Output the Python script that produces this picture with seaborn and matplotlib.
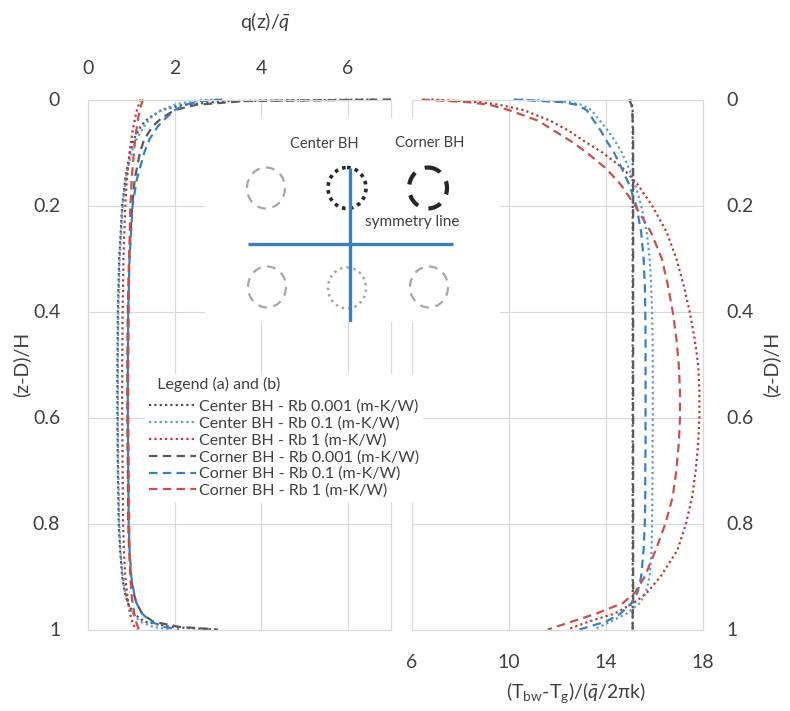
import numpy as np
import pandas as pd
import matplotlib
matplotlib.use("Agg")
import matplotlib.pyplot as plt
import seaborn as sns
from matplotlib.patches import Ellipse
from matplotlib.lines import Line2D

sns.set_theme(style="white")
plt.rcParams["font.family"] = ["Lato", "DejaVu Sans"]
plt.rcParams["mathtext.fontset"] = "custom"
plt.rcParams["mathtext.rm"] = "Lato"
plt.rcParams["mathtext.it"] = "Lato:italic"
plt.rcParams["mathtext.bf"] = "Lato:bold"

# ---- (a) heat extraction rate profiles, q(z)/q_mean vs (z-D)/H ----
z_q = [0.0, 0.003, 0.01, 0.02, 0.035, 0.05, 0.075, 0.1, 0.15, 0.2, 0.3, 0.4,
       0.5, 0.6, 0.7, 0.8, 0.85, 0.9, 0.93, 0.95, 0.97, 0.985, 0.995, 1.0]
q_center_rb0001 = [6.6, 3.2, 2.2, 1.7, 1.4, 1.22, 1.06, 0.97, 0.86, 0.79, 0.72, 0.69,
                   0.68, 0.68, 0.69, 0.71, 0.74, 0.79, 0.85, 0.92, 1.05, 1.3, 1.9, 2.9]
q_center_rb01 = [3.0, 2.4, 2.0, 1.68, 1.45, 1.3, 1.12, 1.0, 0.87, 0.8, 0.73, 0.7,
                 0.69, 0.69, 0.7, 0.72, 0.75, 0.8, 0.86, 0.92, 1.03, 1.2, 1.5, 1.9]
q_center_rb1 = [1.22, 1.2, 1.17, 1.13, 1.09, 1.05, 1.0, 0.96, 0.9, 0.86, 0.82, 0.8,
                0.79, 0.79, 0.8, 0.81, 0.83, 0.86, 0.9, 0.93, 0.97, 1.02, 1.08, 1.13]
q_corner_rb0001 = [7.0, 3.6, 2.5, 2.0, 1.7, 1.5, 1.3, 1.2, 1.08, 1.02, 0.95, 0.92,
                   0.91, 0.91, 0.92, 0.93, 0.95, 0.99, 1.05, 1.12, 1.25, 1.5, 2.1, 3.0]
q_corner_rb01 = [3.1, 2.6, 2.25, 2.0, 1.8, 1.62, 1.42, 1.3, 1.13, 1.03, 0.96, 0.93,
                 0.92, 0.92, 0.93, 0.94, 0.96, 1.0, 1.06, 1.12, 1.25, 1.45, 1.75, 2.1]
q_corner_rb1 = [1.28, 1.26, 1.23, 1.2, 1.16, 1.13, 1.09, 1.06, 1.01, 0.98, 0.95, 0.94,
                0.93, 0.93, 0.94, 0.95, 0.96, 0.98, 1.0, 1.03, 1.07, 1.11, 1.15, 1.17]

# ---- (b) borehole wall temperature profiles ----
z_t = [0.0, 0.005, 0.01, 0.02, 0.04, 0.06, 0.08, 0.1, 0.13, 0.16, 0.2, 0.25, 0.3, 0.35,
       0.4, 0.45, 0.5, 0.55, 0.6, 0.65, 0.7, 0.75, 0.8, 0.85, 0.9, 0.93, 0.95, 0.97,
       0.985, 1.0]
t_center_rb0001 = [15.0, 15.05, 15.08, 15.1, 15.1, 15.1, 15.1, 15.1, 15.1, 15.1, 15.1,
                   15.1, 15.1, 15.1, 15.1, 15.1, 15.1, 15.1, 15.1, 15.1, 15.1, 15.1,
                   15.1, 15.1, 15.1, 15.1, 15.1, 15.1, 15.1, 15.1]
t_center_rb01 = [10.5, 12.5, 13.0, 13.4, 13.75, 14.1, 14.4, 14.65, 14.95, 15.2, 15.45,
                 15.68, 15.8, 15.86, 15.9, 15.92, 15.93, 15.93, 15.93, 15.92, 15.92,
                 15.91, 15.9, 15.88, 15.8, 15.65, 15.4, 14.85, 14.2, 13.5]
t_center_rb1 = [6.8, 8.8, 9.6, 10.6, 11.7, 12.5, 13.15, 13.85, 14.7, 15.3, 15.9, 16.5,
                16.9, 17.2, 17.45, 17.65, 17.8, 17.85, 17.85, 17.8, 17.7, 17.55, 17.3,
                16.95, 16.25, 15.7, 15.15, 14.35, 13.3, 12.4]
t_corner_rb0001 = [14.95, 15.0, 15.05, 15.08, 15.1, 15.12, 15.12, 15.12, 15.12, 15.12,
                   15.12, 15.12, 15.12, 15.12, 15.12, 15.12, 15.12, 15.12, 15.12, 15.12,
                   15.12, 15.12, 15.12, 15.12, 15.12, 15.12, 15.12, 15.1, 15.1, 15.1]
t_corner_rb01 = [10.2, 12.2, 12.8, 13.2, 13.5, 13.8, 14.05, 14.33, 14.65, 14.95, 15.25,
                 15.45, 15.55, 15.6, 15.62, 15.63, 15.63, 15.63, 15.63, 15.63, 15.62,
                 15.62, 15.6, 15.55, 15.45, 15.3, 15.05, 14.6, 14.0, 12.9]
t_corner_rb1 = [6.4, 8.3, 9.2, 10.0, 11.2, 11.9, 12.6, 13.2, 14.0, 14.6, 15.2, 15.85,
                16.3, 16.55, 16.75, 16.9, 17.0, 17.05, 17.05, 17.0, 16.9, 16.75, 16.45,
                16.05, 15.6, 15.2, 14.7, 13.6, 12.6, 11.6]

labels = ["Center BH - Rb 0.001 (m-K/W)", "Center BH - Rb 0.1 (m-K/W)",
          "Center BH - Rb 1 (m-K/W)", "Corner BH - Rb 0.001 (m-K/W)",
          "Corner BH - Rb 0.1 (m-K/W)", "Corner BH - Rb 1 (m-K/W)"]
q_series = [q_center_rb0001, q_center_rb01, q_center_rb1,
            q_corner_rb0001, q_corner_rb01, q_corner_rb1]
t_series = [t_center_rb0001, t_center_rb01, t_center_rb1,
            t_corner_rb0001, t_corner_rb01, t_corner_rb1]

colors = ["#44546a", "#5b9bd5", "#c0392b", "#595959", "#3a7fc1", "#c8504d"]
DOT = (0, (1, 1.4))
DASH = (0, (3.8, 2.4))
styles = [DOT, DOT, DOT, DASH, DASH, DASH]
LW = 1.6

GRID = "#d9d9d9"
TXT = "#404040"

fig = plt.figure(figsize=(7.9, 7.11), dpi=100)
W, H = 790, 711


def frac(x0, y0, x1, y1):
    return [x0 / W, (H - y1) / H, (x1 - x0) / W, (y1 - y0) / H]


ax1 = fig.add_axes(frac(88, 99.5, 391, 629.5))
ax2 = fig.add_axes(frac(412, 99.5, 703, 629.5))

for q, c, ls in zip(q_series, colors, styles):
    sns.lineplot(x=q, y=z_q, orient="y", sort=False, estimator=None, ax=ax1,
                 color=c, linestyle=ls, lw=LW, clip_on=False, legend=False)
for t, c, ls in zip(t_series, colors, styles):
    sns.lineplot(x=t, y=z_t, orient="y", sort=False, estimator=None, ax=ax2,
                 color=c, linestyle=ls, lw=LW, clip_on=False, legend=False)

yt = [0, 0.2, 0.4, 0.6, 0.8, 1.0]
ytl = ["0", "0.2", "0.4", "0.6", "0.8", "1"]
for ax in (ax1, ax2):
    ax.set_ylim(1, 0)
    ax.set_yticks(yt)
    ax.set_yticklabels(ytl)
    ax.grid(True, color=GRID, lw=0.8)
    ax.set_axisbelow(True)
    for s in ax.spines.values():
        s.set_color(GRID)
        s.set_linewidth(0.8)
    ax.tick_params(length=0, labelsize=14, colors=TXT)

ax1.set_xlim(0, 7)
ax1.set_xticks([0, 2, 4, 6])
ax1.set_xticklabels(["0", "2", "4", "6"])
ax1.xaxis.tick_top()
ax1.xaxis.set_label_position("top")
ax1.tick_params(axis="x", pad=16)
ax1.tick_params(axis="y", pad=20)
ax1.set_xlabel(r"q(z)/$\bar{q}$", fontsize=14, color=TXT, labelpad=26)
ax1.xaxis.set_label_coords(0.585, 1.135)
ax1.set_ylabel("(z-D)/H", fontsize=14, color=TXT, labelpad=2)

ax2.set_xlim(6, 18)
ax2.set_xticks([6, 10, 14, 18])
ax2.set_xticklabels(["6", "10", "14", "18"])
ax2.yaxis.tick_right()
ax2.yaxis.set_label_position("right")
ax2.tick_params(axis="x", pad=18)
ax2.tick_params(axis="y", pad=17)
ax2.set_xlabel(r"(T$_{\mathrm{bw}}$-T$_{\mathrm{g}}$)/($\bar{q}$/2πk)",
               fontsize=14, color=TXT, labelpad=4)
ax2.xaxis.set_label_coords(0.565, -0.095)
ax2.set_ylabel("(z-D)/H", fontsize=14, color=TXT, labelpad=6)

# ---- borefield sketch ----
ins = fig.add_axes(frac(205, 118, 500, 322))
ins.set_facecolor("white")
ins.set_xticks([])
ins.set_yticks([])
for s in ins.spines.values():
    s.set_visible(False)
ins.set_xlim(205, 500)
ins.set_ylim(322, 118)

GRAY = "#a6a6a6"
BLACK = "#262626"
BLUE = "#3a7fc1"
circles = [
    (266, 188, GRAY, (0, (4, 3)), 1.6),
    (347, 188, BLACK, (0, (1, 1.2)), 2.6),
    (428, 188, BLACK, (0, (3.2, 2.6)), 3.0),
    (267, 287, GRAY, (0, (4, 3)), 1.6),
    (347, 288, GRAY, (0, (1, 1.6)), 1.8),
    (429, 287, GRAY, (0, (4, 3)), 1.6),
]
for cx, cy, col, ls, lw in circles:
    ins.add_patch(Ellipse((cx, cy), 38, 41, fill=False, edgecolor=col,
                          linestyle=ls, lw=lw))
ins.plot([248, 453], [244, 244], color=BLUE, lw=2.4, solid_capstyle="butt")
ins.plot([350, 350], [168, 322], color=BLUE, lw=2.4, solid_capstyle="butt")
ins.text(324, 144, "Center BH", ha="center", va="center", fontsize=10.5, color=TXT)
ins.text(430, 143, "Corner BH", ha="center", va="center", fontsize=10.5, color=TXT)
ins.text(412, 222, "symmetry line", ha="center", va="center", fontsize=11, color=TXT)

# ---- shared legend ----
handles = [Line2D([], [], color=c, linestyle=ls, lw=LW) for c, ls in zip(colors, styles)]
leg = fig.legend(handles, labels, title="  Legend (a) and (b)", loc="upper left",
                 bbox_to_anchor=(146 / W, (H - 374) / H), fontsize=11.5,
                 title_fontsize=11.5, frameon=True, facecolor="white",
                 edgecolor="white", framealpha=1, fancybox=False,
                 handlelength=2.9, handletextpad=0.2, labelspacing=0.16,
                 borderpad=0.2, borderaxespad=0)
leg._legend_box.align = "left"
leg._legend_box.sep = 5
for t in leg.get_texts():
    t.set_color(TXT)
leg.get_title().set_color(TXT)

fig.savefig("out.png", dpi=100, facecolor="white")
